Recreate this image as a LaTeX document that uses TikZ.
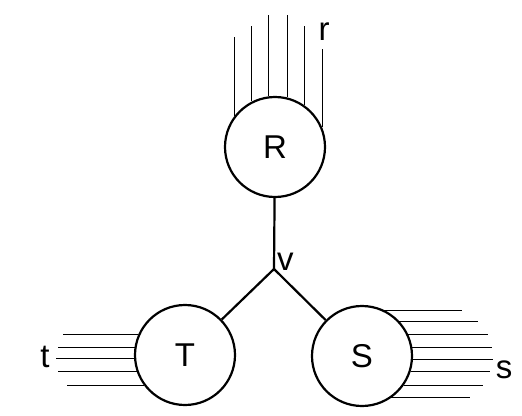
\documentclass[tikz,border=0pt]{standalone}
\usepackage{fontspec}
\setmainfont{Liberation Sans}
\usetikzlibrary{calc}

\begin{document}
\begin{tikzpicture}[
  x=1pt, y=-1pt,
  vtx/.style={circle, draw, line width=2.2pt, minimum size=100pt, inner sep=0pt,
              font=\fontsize{33}{35}\selectfont},
  lbl/.style={font=\fontsize{33}{35}\selectfont, inner sep=0pt},
  edge/.style={line width=2.2pt},
  hair/.style={line width=0.9pt}
]
\useasboundingbox (0,0) rectangle (522,415);

% Vertices
\node[vtx] (R) at (275,147) {R};
\node[vtx] (T) at (185,355) {T};
\node[vtx] (S) at (362,356) {S};

% Branch point
\coordinate (v) at (274,269);
\node[lbl, anchor=west] (lv) at (277,262) {v};

% Edges
\draw[edge] (R) -- (v);
\draw[edge] (v) -- (T);
\draw[edge] (v) -- (S);

% Strands on R
\foreach \a/\y in {142/37, 117/26, 97/15, 76/15, 55/26, 23/49}
  \draw[hair] (R.\a) -- (R.\a |- 0,\y);
\node[lbl] (lr) at (324,32) {r};

% Strands on T
\foreach \a/\x in {156/63, 171/58, 184.5/56, 199.5/58, 216/67}
  \draw[hair] (T.\a) -- (T.\a -| \x,0);
\node[lbl] (lt) at (45,357) {t};

% Strands on S
\foreach \a/\x in {64/462, 43/478, 25/488, 10.4/492, -4.6/493, -18.7/490, -35.5/483, -55/470}
  \draw[hair] (S.\a) -- (S.\a -| \x,0);
\node[lbl] (ls) at (504,370) {s};

\end{tikzpicture}
\end{document}
